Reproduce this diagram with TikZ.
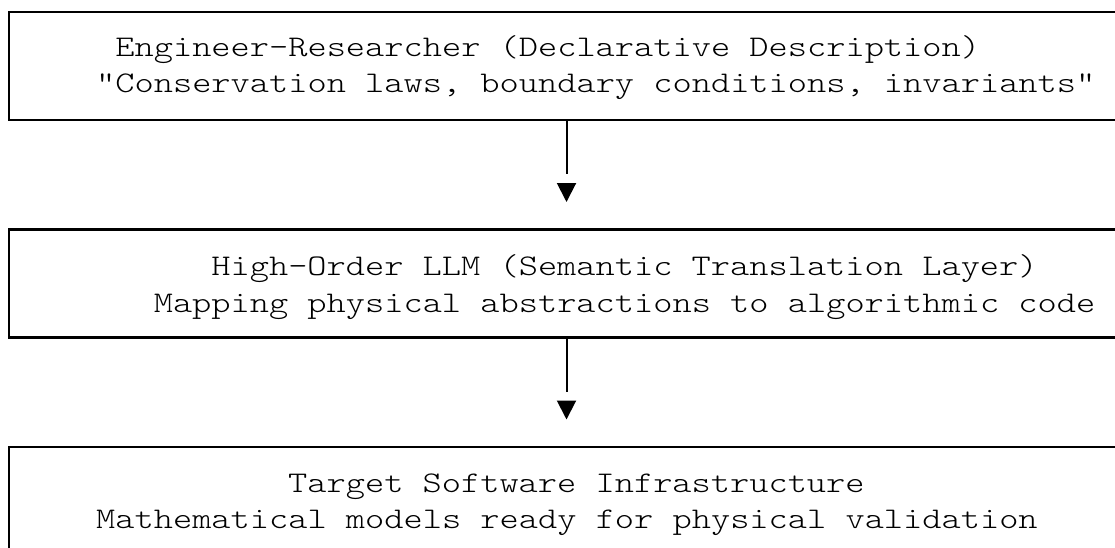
\documentclass[tikz,border=0pt]{standalone}
\usepackage{fontspec}
\setmonofont{lmmonolt10-regular.otf}[FakeStretch=1.22]
\usetikzlibrary{arrows.meta}

\begin{document}
\begin{tikzpicture}[x=1pt,y=-1pt,
	box/.style={draw,line width=2.5pt,rectangle,anchor=north west,outer sep=0pt,
		minimum width=1250pt,minimum height=108pt,inner sep=0pt},
	line text/.style={anchor=base west,inner sep=0pt,
		font=\ttfamily\fontsize{30}{36}\selectfont},
	link/.style={line width=2pt,dash pattern=on 54pt off 200pt,shorten >=27.5pt,
		-{Triangle[width=19pt,length=19pt]}}
	]
	\useasboundingbox (0,0) rectangle (1115,548);
	\clip (0,0) rectangle (1115,548);

	% boxes (open to the right, the page cuts them)
	\node[box] (engineer) at (9,12) {};
	\node[box] (llm) at (9,229.5) {};
	\node[box] (target) at (9,447) {};

	% texts, one cell = 19.2
	\node[line text] (engineer-title) at (115.2,56.5) {Engineer-Researcher (Declarative Description)};
	\node[line text] (engineer-note) at (96,92.5) {"Conservation laws, boundary conditions, invariants"};

	\node[line text] (llm-title) at (211.2,275) {High-Order LLM (Semantic Translation Layer)};
	\node[line text] (llm-note) at (153.6,312) {Mapping physical abstractions to algorithmic code};

	\node[line text] (target-title) at (288,492) {Target Software Infrastructure};
	\node[line text] (target-note) at (96,528) {Mathematical models ready for physical validation};

	% connectors
	\coordinate (axis) at (566.5,0);
	\draw[link] (engineer.south -| axis) -- (llm.north -| axis);
	\draw[link] (llm.south -| axis) -- (target.north -| axis);
\end{tikzpicture}
\end{document}
